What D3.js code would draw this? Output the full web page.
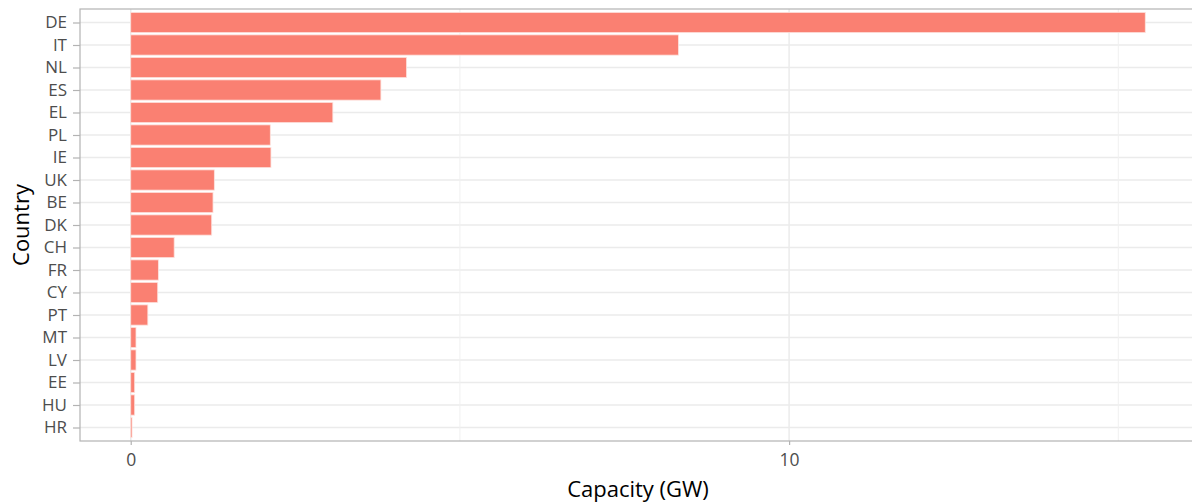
<!DOCTYPE html>
<html><head><meta charset="utf-8">
<script src="https://cdn.jsdelivr.net/npm/d3@7"></script>
<style>body{margin:0;background:#fff;}svg{display:block;}</style>
</head><body>
<script>
const countries = ["DE","IT","NL","ES","EL","PL","IE","UK","BE","DK","CH","FR","CY","PT","MT","LV","EE","HU","HR"];
const capacity = [15.41,8.32,4.19,3.80,3.07,2.12,2.13,1.27,1.25,1.23,0.66,0.42,0.41,0.26,0.08,0.08,0.06,0.06,0.02];
const xTicks = [0,10];
const xMinor = [5,15];

(function(){
const W=1192,H=504;
const svg=d3.select("body").append("svg").attr("width",W).attr("height",H);
const pL=80, pR=1196, pT=9, pB=441;
const maxV=d3.max(capacity);
const pad=maxV*0.05;
const x=d3.scaleLinear().domain([-pad,maxV+pad]).range([pL,pR]);
const step=(pB-pT)/(countries.length-1+1.2);
const yc=d3.scalePoint().domain(countries).range([pT+0.6*step,pB-0.6*step]);
const bh=step*0.9;
const font="'Open Sans',sans-serif";

const g=svg.append("g");
g.selectAll(".hg").data(countries).join("line")
 .attr("x1",pL).attr("x2",pR).attr("y1",d=>yc(d)).attr("y2",d=>yc(d))
 .attr("stroke","#ebebeb").attr("stroke-width",1.5);
g.selectAll(".vm").data(xMinor).join("line")
 .attr("x1",d=>x(d)).attr("x2",d=>x(d)).attr("y1",pT).attr("y2",pB)
 .attr("stroke","#f0f0f0").attr("stroke-width",1);
g.selectAll(".vg").data(xTicks).join("line")
 .attr("x1",d=>x(d)).attr("x2",d=>x(d)).attr("y1",pT).attr("y2",pB)
 .attr("stroke","#ebebeb").attr("stroke-width",1.5);
g.selectAll(".bar").data(countries).join("rect")
 .attr("x",x(0)).attr("y",d=>yc(d)-bh/2)
 .attr("width",(d,i)=>x(capacity[i])-x(0)).attr("height",bh)
 .attr("fill","#FA8072").attr("stroke","#fde3df").attr("stroke-width",0.8);
svg.append("rect").attr("x",pL).attr("y",pT).attr("width",pR-pL).attr("height",pB-pT)
 .attr("fill","none").attr("stroke","#b3b3b3").attr("stroke-width",1.2);

const xa=svg.append("g").attr("transform",`translate(0,${pB})`)
 .call(d3.axisBottom(x).tickValues(xTicks).tickSize(4).tickPadding(9).tickFormat(d3.format("d")));
xa.select(".domain").remove();
xa.selectAll("line").attr("stroke","#b3b3b3").attr("stroke-width",1.2);
xa.selectAll("text").attr("fill","#4d4d4d").style("font-family",font).style("font-size","17.5px");

const ya=svg.append("g").attr("transform",`translate(${pL},0)`)
 .call(d3.axisLeft(yc).tickSize(7).tickPadding(6));
ya.select(".domain").remove();
ya.selectAll("line").attr("stroke","#b3b3b3").attr("stroke-width",1.2);
ya.selectAll("text").attr("fill","#4d4d4d").style("font-family",font).style("font-size","17px");

svg.append("text").attr("x",(pL+pR)/2).attr("y",497).attr("text-anchor","middle")
 .style("font-family",font).style("font-size","22px").attr("fill","#000").text("Capacity (GW)");
svg.append("text").attr("transform",`translate(29,${(pT+pB)/2}) rotate(-90)`).attr("text-anchor","middle")
 .style("font-family",font).style("font-size","22px").attr("fill","#000").text("Country");
})();
</script>
</body></html>
